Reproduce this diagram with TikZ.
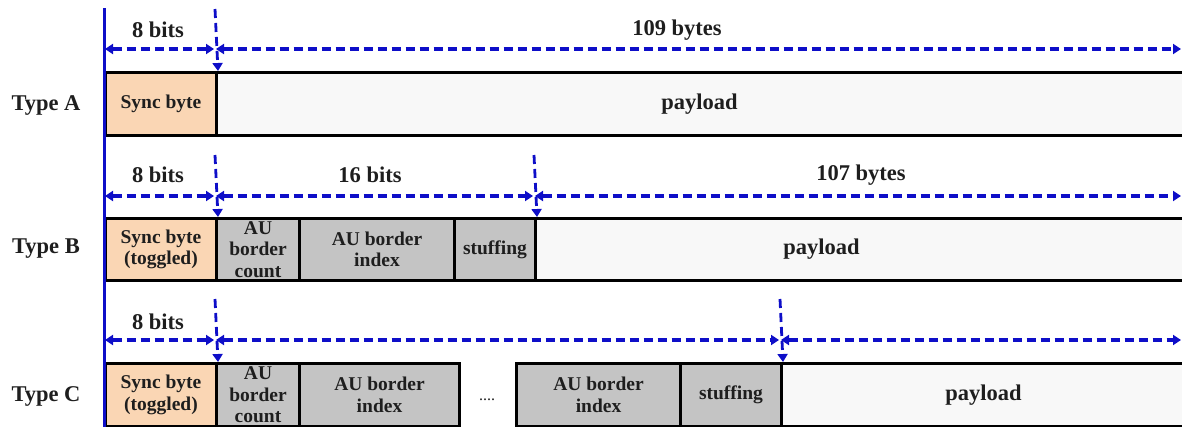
\documentclass[tikz,border=0pt]{standalone}
\usepackage{fontspec}
\setmainfont{Liberation Serif}
\usetikzlibrary{arrows.meta}
\definecolor{peach}{RGB}{250,214,180}
\definecolor{cellgray}{RGB}{196,196,196}
\definecolor{payfill}{RGB}{248,248,248}
\definecolor{dimblue}{RGB}{14,14,200}
\definecolor{txt}{RGB}{30,30,30}
\begin{document}
\begin{tikzpicture}[x=1pt,y=-1pt,
  cell/.style={draw=black, line width=3pt, anchor=north west, minimum height=63pt,
    inner sep=0pt, align=center, text=txt, font=\fontsize{19.5}{21.5}\selectfont\bfseries},
  sync/.style={cell, fill=peach},
  aucell/.style={cell, fill=cellgray},
  pay/.style={cell, fill=payfill},
  big/.style={text=txt, font=\fontsize{22.5}{24}\selectfont\bfseries, inner sep=0pt},
  dimarrow/.style={dimblue, line width=3.2pt, dash pattern=on 9pt off 5pt, {Triangle[length=8pt,width=10pt]}-{Triangle[length=8pt,width=10pt]}},
  downarrow/.style={dimblue, line width=2.8pt, dash pattern=on 9pt off 5pt, -{Triangle[length=8pt,width=10pt]}},
  axisline/.style={dimblue, line width=3pt}]

\useasboundingbox (0,0) rectangle (1182,426);
\clip (0,0) rectangle (1182,426);

% ---------- Type A ----------
\node[sync, minimum width=111pt] (sA) at (104,71) {Sync byte};
\node[pay, minimum width=975pt, label={[big, xshift=-4.5pt]center:payload}] (pA) at (215,71) {};
\node[big] (tA) at (46,105) {Type A};

% ---------- Type B ----------
\node[sync, minimum width=111pt, minimum height=62pt] (sB) at (104,217) {Sync byte\\(toggled)};
\node[aucell, minimum width=83pt, minimum height=62pt] (cB) at (215,217) {AU\\border\\count};
\node[aucell, minimum width=155pt, minimum height=62pt] (iB) at (298,217) {AU border\\index};
\node[aucell, minimum width=81pt, minimum height=62pt] (fB) at (453,217) {stuffing};
\node[pay, minimum width=660pt, minimum height=62pt, label={[big, xshift=-44pt]center:payload}] (pB) at (534,217) {};
\node[big] (tB) at (46,249) {Type B};

% ---------- Type C ----------
\node[sync, minimum width=111pt] (sC) at (104,362) {Sync byte\\(toggled)};
\node[aucell, minimum width=83pt] (cC) at (215,362) {AU\\border\\count};
\node[aucell, minimum width=160pt] (iC) at (298,362) {AU border\\index};
\node[text=txt, font=\fontsize{16}{18}\selectfont, inner sep=0pt] (dots) at (487,400) {....};
\node[aucell, minimum width=164pt] (jC) at (515,362) {AU border\\index};
\node[aucell, minimum width=101pt] (fC) at (679,362) {stuffing};
\node[pay, minimum width=410pt, label={[big, xshift=-3pt]center:payload}] (pC) at (780,362) {};
\node[big] (tC) at (46,396) {Type C};

% ---------- dimension labels ----------
\node[big] (lA1) at (158,30) {8 bits};
\node[big] (lA2) at (677,30) {109 bytes};
\node[big] (lB1) at (158,175) {8 bits};
\node[big] (lB2) at (370,175) {16 bits};
\node[big] (lB3) at (861,175) {107 bytes};
\node[big] (lC1) at (158,322) {8 bits};

% ---------- left axis ----------
\coordinate (axTop) at (104,8);
\coordinate (axBot) at (104,430);
\draw[axisline] (axTop) -- (axBot);

% ---------- horizontal dimension arrows ----------
\coordinate (a0) at (105,49);  \coordinate (a1) at (214,49);
\coordinate (a2) at (216,49);  \coordinate (a3) at (1181,49);
\draw[dimarrow] (a0) -- (a1);
\draw[dimarrow] (a2) -- (a3);

\coordinate (b0) at (105,196); \coordinate (b1) at (214,196);
\coordinate (b2) at (216,196); \coordinate (b3) at (533,196);
\coordinate (b4) at (535,196); \coordinate (b5) at (1181,196);
\draw[dimarrow] (b0) -- (b1);
\draw[dimarrow] (b2) -- (b3);
\draw[dimarrow] (b4) -- (b5);

\coordinate (c0) at (105,340); \coordinate (c1) at (214,340);
\coordinate (c2) at (216,340); \coordinate (c3) at (779,340);
\coordinate (c4) at (781,340); \coordinate (c5) at (1181,340);
\draw[dimarrow] (c0) -- (c1);
\draw[dimarrow] (c2) -- (c3);
\draw[dimarrow] (c4) -- (c5);

% ---------- vertical dashed markers ----------
\coordinate (vA) at (215,9);
\coordinate (vB1) at (215,155);
\coordinate (vB2) at (534,155);
\coordinate (vC1) at (215,299);
\coordinate (vC2) at (780,299);
\draw[downarrow] (vA) -- (sA.north east);
\draw[downarrow] (vB1) -- (sB.north east);
\draw[downarrow] (vB2) -- (fB.north east);
\draw[downarrow] (vC1) -- (sC.north east);
\draw[downarrow] (vC2) -- (fC.north east);
\end{tikzpicture}
\end{document}
